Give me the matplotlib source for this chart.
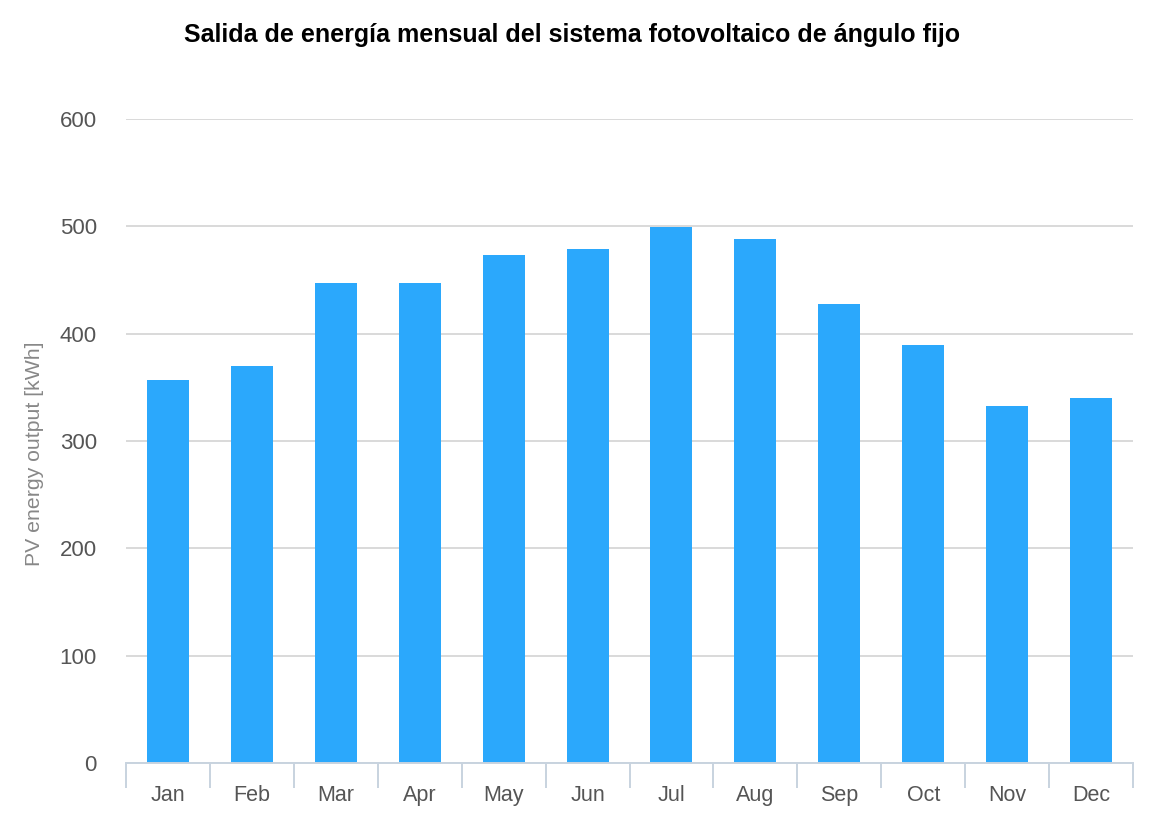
import matplotlib
matplotlib.use("Agg")
import matplotlib.pyplot as plt
import numpy as np

months = ["Jan", "Feb", "Mar", "Apr", "May", "Jun", "Jul", "Aug", "Sep", "Oct", "Nov", "Dec"]
energy_kwh = [357, 370, 447, 447, 473, 479, 499, 488, 428, 389, 333, 340]
y_ticks = [0, 100, 200, 300, 400, 500, 600]
title = "Salida de energía mensual del sistema fotovoltaico de ángulo fijo"
y_label = "PV energy output [kWh]"

plt.rcParams['font.family'] = ['Liberation Sans', 'DejaVu Sans']

fig = plt.figure(figsize=(11.7, 8.14), dpi=100)
ax = fig.add_axes([126/1170, 1 - 763/814, (1133-126)/1170, (763-119)/814])

x = np.arange(len(months))
ax.bar(x, energy_kwh, width=0.5, color="#2ba8fc", zorder=2)

ax.set_xlim(-0.5, len(months) - 0.5)
ax.set_ylim(0, 600)
ax.set_yticks(y_ticks)
ax.set_yticklabels([str(t) for t in y_ticks], fontsize=16, color="#555555")
ax.tick_params(axis='y', length=0, pad=21)
ax.yaxis.grid(True, color="#d9d9d9", linewidth=1.4, zorder=0)
ax.set_axisbelow(True)

ax.set_xticks(x)
ax.set_xticklabels(months, fontsize=15.5, color="#555555")
ax.tick_params(axis='x', which='major', length=0, pad=16)
ax.set_xticks(np.arange(-0.5, len(months)), minor=True)
ax.tick_params(axis='x', which='minor', length=18, width=1.4, color="#c8d3df")

for s in ["top", "right", "left"]:
    ax.spines[s].set_visible(False)
ax.spines["bottom"].set_color("#c8d3df")
ax.spines["bottom"].set_linewidth(1.4)

ax.set_ylabel(y_label, fontsize=15.3, color="#888888")
ax.yaxis.set_label_coords(-(126-44)/1007, 0.48)

fig.text(572/1170, 1 - 35/814, title, ha="center", va="center",
         fontsize=18, fontweight="bold", color="#000000")

fig.savefig("out.png", dpi=100, facecolor="white")
